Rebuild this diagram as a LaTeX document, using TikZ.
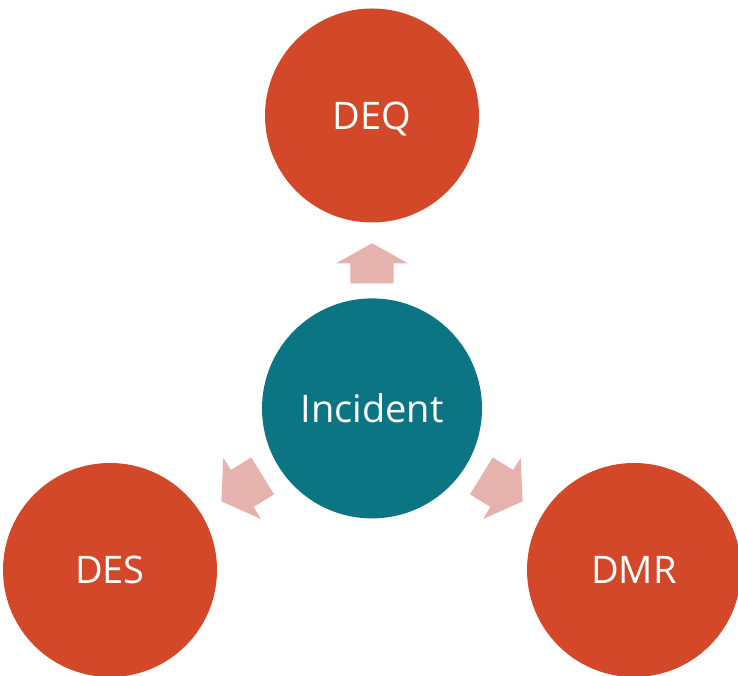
\documentclass[tikz,border=0pt]{standalone}
\usepackage{fontspec}
\setmainfont{Open Sans}
\definecolor{orangered}{RGB}{211,72,40}
\definecolor{tealc}{RGB}{11,117,131}
\definecolor{arrowc}{RGB}{230,178,174}
\begin{document}
\begin{tikzpicture}[x=1pt,y=1pt]
\useasboundingbox (0,0) rectangle (738,676);
\tikzset{
  bubble/.style={circle, inner sep=0pt, text=white,
    font=\fontsize{38}{38}\selectfont, text height=27.5pt, text depth=0pt},
  outerc/.style={bubble, fill=orangered, minimum size=214pt},
  innerc/.style={bubble, fill=tealc, minimum size=220pt},
  blockarrow/.style={fill=arrowc}
}
\node[outerc] (deq) at (372,560.5) {DEQ};
\node[innerc] (inc) at (372,267.6) {Incident};
\node[outerc] (des) at (110,106) {DES};
\node[outerc] (dmr) at (634,106) {DMR};
% up arrow
\begin{scope}[shift={(inc.center)}, rotate=90]
  \fill[blockarrow] (125.1,-21.6) -- (145.1,-21.6) -- (145.1,-35.8) -- (165.1,0)
    -- (145.1,35.8) -- (145.1,21.6) -- (125.1,21.6) -- cycle;
\end{scope}
% arrow to DES
\begin{scope}[shift={(inc.center)}, rotate=211.67]
  \fill[blockarrow] (128.5,-21.7) -- (152.5,-21.7) -- (152.5,-36) -- (177,0)
    -- (152.5,36) -- (152.5,21.7) -- (128.5,21.7) -- cycle;
\end{scope}
% arrow to DMR
\begin{scope}[shift={(inc.center)}, rotate=-31.67]
  \fill[blockarrow] (128.5,-21.7) -- (152.5,-21.7) -- (152.5,-36) -- (177,0)
    -- (152.5,36) -- (152.5,21.7) -- (128.5,21.7) -- cycle;
\end{scope}
\end{tikzpicture}
\end{document}
